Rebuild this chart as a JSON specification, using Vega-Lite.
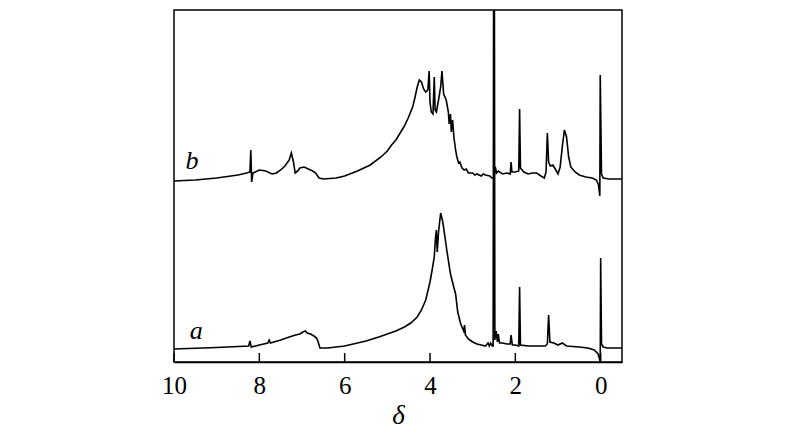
{
  "$schema": "https://vega.github.io/schema/vega-lite/v6.json",
  "width": 448,
  "height": 352,
  "autosize": {"type": "none"},
  "padding": {"left": 174, "top": 10, "right": 178, "bottom": 80},
  "background": "white",
  "config": {
    "view": {"stroke": "black", "strokeWidth": 1.5},
    "axis": {"grid": false}
  },
  "datasets": {
    "spec": [
      {"s":"a","d":10.0,"v":13},{"s":"a","d":9.0,"v":14.5},{"s":"a","d":8.25,"v":16},{"s":"a","d":8.22,"v":21},{"s":"a","d":8.19,"v":15},
      {"s":"a","d":8.0,"v":17},{"s":"a","d":7.8,"v":19},{"s":"a","d":7.77,"v":22},{"s":"a","d":7.74,"v":19},{"s":"a","d":7.5,"v":22},{"s":"a","d":7.3,"v":25},{"s":"a","d":7.15,"v":27},
      {"s":"a","d":7.05,"v":28},{"s":"a","d":6.98,"v":30},{"s":"a","d":6.92,"v":31},{"s":"a","d":6.88,"v":29},{"s":"a","d":6.8,"v":28},{"s":"a","d":6.72,"v":26},{"s":"a","d":6.66,"v":24},{"s":"a","d":6.62,"v":20},
      {"s":"a","d":6.58,"v":14},{"s":"a","d":6.4,"v":14},{"s":"a","d":6.0,"v":16},{"s":"a","d":5.5,"v":21},{"s":"a","d":5.2,"v":25},{"s":"a","d":5.0,"v":28},
      {"s":"a","d":4.8,"v":31},{"s":"a","d":4.6,"v":35},{"s":"a","d":4.45,"v":39},{"s":"a","d":4.3,"v":45},{"s":"a","d":4.2,"v":52},{"s":"a","d":4.1,"v":62},
      {"s":"a","d":4.0,"v":80},{"s":"a","d":3.95,"v":92},{"s":"a","d":3.9,"v":105},{"s":"a","d":3.87,"v":125},{"s":"a","d":3.85,"v":132},
      {"s":"a","d":3.83,"v":110},{"s":"a","d":3.8,"v":130},{"s":"a","d":3.75,"v":149},{"s":"a","d":3.7,"v":140},{"s":"a","d":3.6,"v":110},
      {"s":"a","d":3.52,"v":88},{"s":"a","d":3.45,"v":76},{"s":"a","d":3.4,"v":68},{"s":"a","d":3.35,"v":50},{"s":"a","d":3.28,"v":38},{"s":"a","d":3.21,"v":31},
      {"s":"a","d":3.19,"v":37},{"s":"a","d":3.17,"v":27},{"s":"a","d":3.1,"v":23},{"s":"a","d":3.0,"v":20},{"s":"a","d":2.9,"v":18},{"s":"a","d":2.8,"v":17},
      {"s":"a","d":2.7,"v":16},{"s":"a","d":2.64,"v":19},{"s":"a","d":2.61,"v":16},{"s":"a","d":2.58,"v":19},{"s":"a","d":2.54,"v":16},{"s":"a","d":2.52,"v":16},{"s":"a","d":2.5,"v":700},
      {"s":"a","d":2.48,"v":22},{"s":"a","d":2.45,"v":31},{"s":"a","d":2.42,"v":20},{"s":"a","d":2.4,"v":28},{"s":"a","d":2.37,"v":19},
      {"s":"a","d":2.3,"v":19},{"s":"a","d":2.2,"v":18},{"s":"a","d":2.12,"v":18},{"s":"a","d":2.1,"v":27},{"s":"a","d":2.07,"v":17},
      {"s":"a","d":2.0,"v":17},{"s":"a","d":1.92,"v":16},{"s":"a","d":1.9,"v":75},{"s":"a","d":1.88,"v":17},{"s":"a","d":1.7,"v":16},
      {"s":"a","d":1.5,"v":16},{"s":"a","d":1.3,"v":16},{"s":"a","d":1.25,"v":18},{"s":"a","d":1.22,"v":47},{"s":"a","d":1.19,"v":20},
      {"s":"a","d":1.1,"v":19},{"s":"a","d":1.0,"v":17},{"s":"a","d":0.9,"v":19},{"s":"a","d":0.8,"v":16},{"s":"a","d":0.5,"v":15},
      {"s":"a","d":0.3,"v":14},{"s":"a","d":0.15,"v":12},{"s":"a","d":0.06,"v":8},{"s":"a","d":0.02,"v":2},{"s":"a","d":0.01,"v":0},
      {"s":"a","d":0.0,"v":104},{"s":"a","d":-0.02,"v":18},{"s":"a","d":-0.06,"v":15},{"s":"a","d":-0.15,"v":14},{"s":"a","d":-0.5,"v":14},

      {"s":"b","d":10.0,"v":181},{"s":"b","d":9.5,"v":182},{"s":"b","d":9.0,"v":184},{"s":"b","d":8.5,"v":187},{"s":"b","d":8.3,"v":189},
      {"s":"b","d":8.22,"v":190},{"s":"b","d":8.2,"v":212},{"s":"b","d":8.18,"v":180},{"s":"b","d":8.15,"v":189},{"s":"b","d":8.0,"v":192},
      {"s":"b","d":7.85,"v":191},{"s":"b","d":7.7,"v":188},{"s":"b","d":7.6,"v":189},{"s":"b","d":7.5,"v":192},{"s":"b","d":7.4,"v":196},
      {"s":"b","d":7.3,"v":202},{"s":"b","d":7.25,"v":209},{"s":"b","d":7.2,"v":200},{"s":"b","d":7.16,"v":189},{"s":"b","d":7.1,"v":191},
      {"s":"b","d":7.05,"v":194},{"s":"b","d":6.95,"v":195},{"s":"b","d":6.85,"v":193},{"s":"b","d":6.75,"v":191},{"s":"b","d":6.68,"v":189},
      {"s":"b","d":6.6,"v":184},{"s":"b","d":6.5,"v":183},{"s":"b","d":6.2,"v":184},{"s":"b","d":6.0,"v":186},{"s":"b","d":5.7,"v":191},
      {"s":"b","d":5.4,"v":197},{"s":"b","d":5.15,"v":205},{"s":"b","d":5.0,"v":211},{"s":"b","d":4.9,"v":217},{"s":"b","d":4.8,"v":222},
      {"s":"b","d":4.7,"v":229},{"s":"b","d":4.6,"v":236},{"s":"b","d":4.5,"v":245},{"s":"b","d":4.4,"v":256},{"s":"b","d":4.35,"v":265},
      {"s":"b","d":4.3,"v":275},{"s":"b","d":4.25,"v":282},{"s":"b","d":4.2,"v":280},{"s":"b","d":4.15,"v":273},{"s":"b","d":4.1,"v":270},
      {"s":"b","d":4.05,"v":272},{"s":"b","d":4.02,"v":291},{"s":"b","d":4.0,"v":260},{"s":"b","d":3.97,"v":250},{"s":"b","d":3.93,"v":248},
      {"s":"b","d":3.9,"v":285},{"s":"b","d":3.88,"v":252},{"s":"b","d":3.85,"v":250},{"s":"b","d":3.8,"v":262},{"s":"b","d":3.75,"v":275},
      {"s":"b","d":3.72,"v":291},{"s":"b","d":3.68,"v":268},{"s":"b","d":3.62,"v":262},{"s":"b","d":3.57,"v":250},{"s":"b","d":3.55,"v":238},
      {"s":"b","d":3.52,"v":248},{"s":"b","d":3.5,"v":230},{"s":"b","d":3.47,"v":242},{"s":"b","d":3.44,"v":225},{"s":"b","d":3.4,"v":212},
      {"s":"b","d":3.37,"v":205},{"s":"b","d":3.33,"v":199},{"s":"b","d":3.3,"v":200},{"s":"b","d":3.25,"v":194},{"s":"b","d":3.2,"v":192},{"s":"b","d":3.15,"v":193},{"s":"b","d":3.1,"v":189},
      {"s":"b","d":3.0,"v":189},{"s":"b","d":2.95,"v":187},{"s":"b","d":2.9,"v":188},{"s":"b","d":2.8,"v":186},{"s":"b","d":2.75,"v":188},{"s":"b","d":2.7,"v":187},{"s":"b","d":2.6,"v":186},
      {"s":"b","d":2.55,"v":184},{"s":"b","d":2.5,"v":184},{"s":"b","d":2.47,"v":195},{"s":"b","d":2.44,"v":189},{"s":"b","d":2.4,"v":191},
      {"s":"b","d":2.3,"v":188},{"s":"b","d":2.2,"v":189},{"s":"b","d":2.12,"v":188},{"s":"b","d":2.1,"v":200},{"s":"b","d":2.08,"v":190},
      {"s":"b","d":2.0,"v":190},{"s":"b","d":1.92,"v":191},{"s":"b","d":1.9,"v":253},{"s":"b","d":1.88,"v":194},{"s":"b","d":1.8,"v":190},
      {"s":"b","d":1.7,"v":188},{"s":"b","d":1.6,"v":189},{"s":"b","d":1.5,"v":189},{"s":"b","d":1.4,"v":186},{"s":"b","d":1.32,"v":184},
      {"s":"b","d":1.28,"v":190},{"s":"b","d":1.25,"v":229},{"s":"b","d":1.22,"v":200},{"s":"b","d":1.18,"v":196},{"s":"b","d":1.12,"v":197},
      {"s":"b","d":1.05,"v":192},{"s":"b","d":1.0,"v":188},{"s":"b","d":0.95,"v":195},{"s":"b","d":0.9,"v":215},{"s":"b","d":0.85,"v":232},
      {"s":"b","d":0.8,"v":225},{"s":"b","d":0.75,"v":205},{"s":"b","d":0.7,"v":195},{"s":"b","d":0.6,"v":190},{"s":"b","d":0.5,"v":187},
      {"s":"b","d":0.35,"v":185},{"s":"b","d":0.2,"v":184},{"s":"b","d":0.1,"v":182},{"s":"b","d":0.05,"v":177},{"s":"b","d":0.02,"v":166},
      {"s":"b","d":0.01,"v":287},{"s":"b","d":-0.02,"v":188},{"s":"b","d":-0.06,"v":184},{"s":"b","d":-0.2,"v":183},{"s":"b","d":-0.5,"v":183}
    ],
    "labels": [
      {"t":"a","d":9.48,"v":23},
      {"t":"b","d":9.58,"v":193}
    ],
    "ticks": [
      {"d":10},{"d":8},{"d":6},{"d":4},{"d":2},{"d":0}
    ]
  },
  "layer": [
    {
      "data": {"name": "spec"},
      "mark": {"type": "line", "color": "black", "strokeWidth": 1.6, "clip": true, "interpolate": "linear"},
      "encoding": {
        "x": {
          "field": "d", "type": "quantitative",
          "scale": {"domain": [10, -0.5], "nice": false, "zero": false},
          "axis": {
            "values": [10, 8, 6, 4, 2, 0],
            "title": "δ",
            "titleFont": "Liberation Serif", "titleFontSize": 27, "titleFontStyle": "italic", "titleFontWeight": "normal",
            "titleColor": "black", "titlePadding": 4,
            "labelFont": "Liberation Serif", "labelFontSize": 25, "labelColor": "black",
            "labelPadding": 11, "labelFlush": false,
            "ticks": false,
            "domainColor": "black", "domainWidth": 1.5
          }
        },
        "y": {
          "field": "v", "type": "quantitative",
          "scale": {"domain": [0, 352], "nice": false, "zero": false},
          "axis": null
        },
        "detail": {"field": "s"},
        "order": {"field": "d", "sort": "descending"}
      }
    },
    {
      "data": {"name": "ticks"},
      "mark": {"type": "rule", "color": "black", "strokeWidth": 1.5},
      "encoding": {
        "x": {"field": "d", "type": "quantitative"},
        "y": {"datum": 0},
        "y2": {"datum": 9}
      }
    },
    {
      "data": {"name": "labels"},
      "mark": {"type": "text", "font": "Liberation Serif", "fontSize": 26, "fontStyle": "italic", "color": "black", "baseline": "alphabetic", "align": "center"},
      "encoding": {
        "x": {"field": "d", "type": "quantitative"},
        "y": {"field": "v", "type": "quantitative"},
        "text": {"field": "t"}
      }
    }
  ]
}
